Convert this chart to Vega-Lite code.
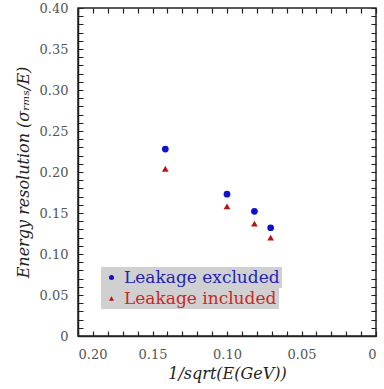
{
  "$schema": "https://vega.github.io/schema/vega-lite/v6.json",
  "width": 298,
  "height": 328,
  "autosize": "none",
  "padding": {"left": 78, "top": 8, "right": 8, "bottom": 53},
  "background": "white",
  "config": {
    "view": {"stroke": "#222", "strokeWidth": 1.5},
    "axis": {
      "domainColor": "#222",
      "domainWidth": 1.5,
      "labelFont": "DejaVu Serif",
      "labelFontSize": 13,
      "labelColor": "#555",
      "titleFont": "DejaVu Serif",
      "titleFontStyle": "italic",
      "titleFontWeight": "normal",
      "titleFontSize": 16,
      "titleColor": "#222",
      "labelOverlap": false,
      "ticks": false,
      "grid": true,
      "gridColor": "#222",
      "gridOpacity": 1,
      "gridWidth": 1.2,
      "zindex": 1
    },
    "legend": {
      "labelFont": "DejaVu Serif",
      "labelFontSize": 17,
      "labelLimit": 300,
      "symbolSize": 25,
      "padding": 2,
      "labelOffset": 4,
      "fillColor": "#d0d0d0",
      "title": null,
      "orient": "none",
      "legendX": 23
    }
  },
  "data": {
    "values": [
      {"x": 0.1414, "y": 0.228, "series": "Leakage excluded"},
      {"x": 0.1, "y": 0.173, "series": "Leakage excluded"},
      {"x": 0.0816, "y": 0.152, "series": "Leakage excluded"},
      {"x": 0.0707, "y": 0.132, "series": "Leakage excluded"},
      {"x": 0.1414, "y": 0.204, "series": "Leakage included"},
      {"x": 0.1, "y": 0.158, "series": "Leakage included"},
      {"x": 0.0816, "y": 0.137, "series": "Leakage included"},
      {"x": 0.0707, "y": 0.12, "series": "Leakage included"}
    ]
  },
  "encoding": {
    "x": {
      "field": "x", "type": "quantitative",
      "scale": {"domain": [0, 0.2], "reverse": true, "nice": false, "zero": false},
      "axis": {
        "orient": "bottom",
        "title": "1/sqrt(E(GeV))",
        "values": [0,0.01,0.02,0.03,0.04,0.05,0.06,0.07,0.08,0.09,0.1,0.11,0.12,0.13,0.14,0.15,0.16,0.17,0.18,0.19,0.2],
        "labelExpr": "abs(datum.value*20-round(datum.value*20))<0.001 ? (datum.value==0 ? '0' : format(datum.value,'.2f')) : ''",
        "gridDash": [5, 318, 5, 100],
        "labelPadding": 12,
        "titlePadding": 4
      }
    },
    "y": {
      "field": "y", "type": "quantitative",
      "scale": {"domain": [0, 0.4], "nice": false},
      "axis": {
        "orient": "left",
        "title": "Energy resolution (σᵣₘₛ/E)",
        "values": [0,0.01,0.02,0.03,0.04,0.05,0.06,0.07,0.08,0.09,0.1,0.11,0.12,0.13,0.14,0.15,0.16,0.17,0.18,0.19,0.2,0.21,0.22,0.23,0.24,0.25,0.26,0.27,0.28,0.29,0.3,0.31,0.32,0.33,0.34,0.35,0.36,0.37,0.38,0.39,0.4],
        "labelExpr": "abs(datum.value*20-round(datum.value*20))<0.001 ? (datum.value==0 ? '0' : format(datum.value,'.2f')) : ''",
        "gridDash": [5, 288, 5, 100],
        "labelPadding": 10,
        "titlePadding": 8
      }
    }
  },
  "layer": [
    {
      "transform": [{"filter": "datum.series == 'Leakage excluded'"}],
      "mark": {"type": "point", "filled": true, "opacity": 1, "size": 45, "shape": "circle"},
      "encoding": {
        "color": {
          "field": "series", "type": "nominal",
          "scale": {"domain": ["Leakage excluded"], "range": ["#1010d0"]},
          "legend": {
            "legendY": 259,
            "labelColor": "#2424b4",
            "symbolType": "circle"
          }
        }
      }
    },
    {
      "transform": [{"filter": "datum.series == 'Leakage included'"}],
      "mark": {"type": "point", "filled": true, "opacity": 1, "size": 45, "color": "#b81414"},
      "encoding": {
        "shape": {
          "field": "series", "type": "nominal",
          "scale": {"domain": ["Leakage included"], "range": ["triangle-up"]},
          "legend": {
            "legendY": 280,
            "labelColor": "#c82828",
            "symbolFillColor": "#b81414",
            "symbolStrokeColor": "#b81414",
            "labelExpr": "datum.label + ' '"
          }
        }
      }
    }
  ]
}
